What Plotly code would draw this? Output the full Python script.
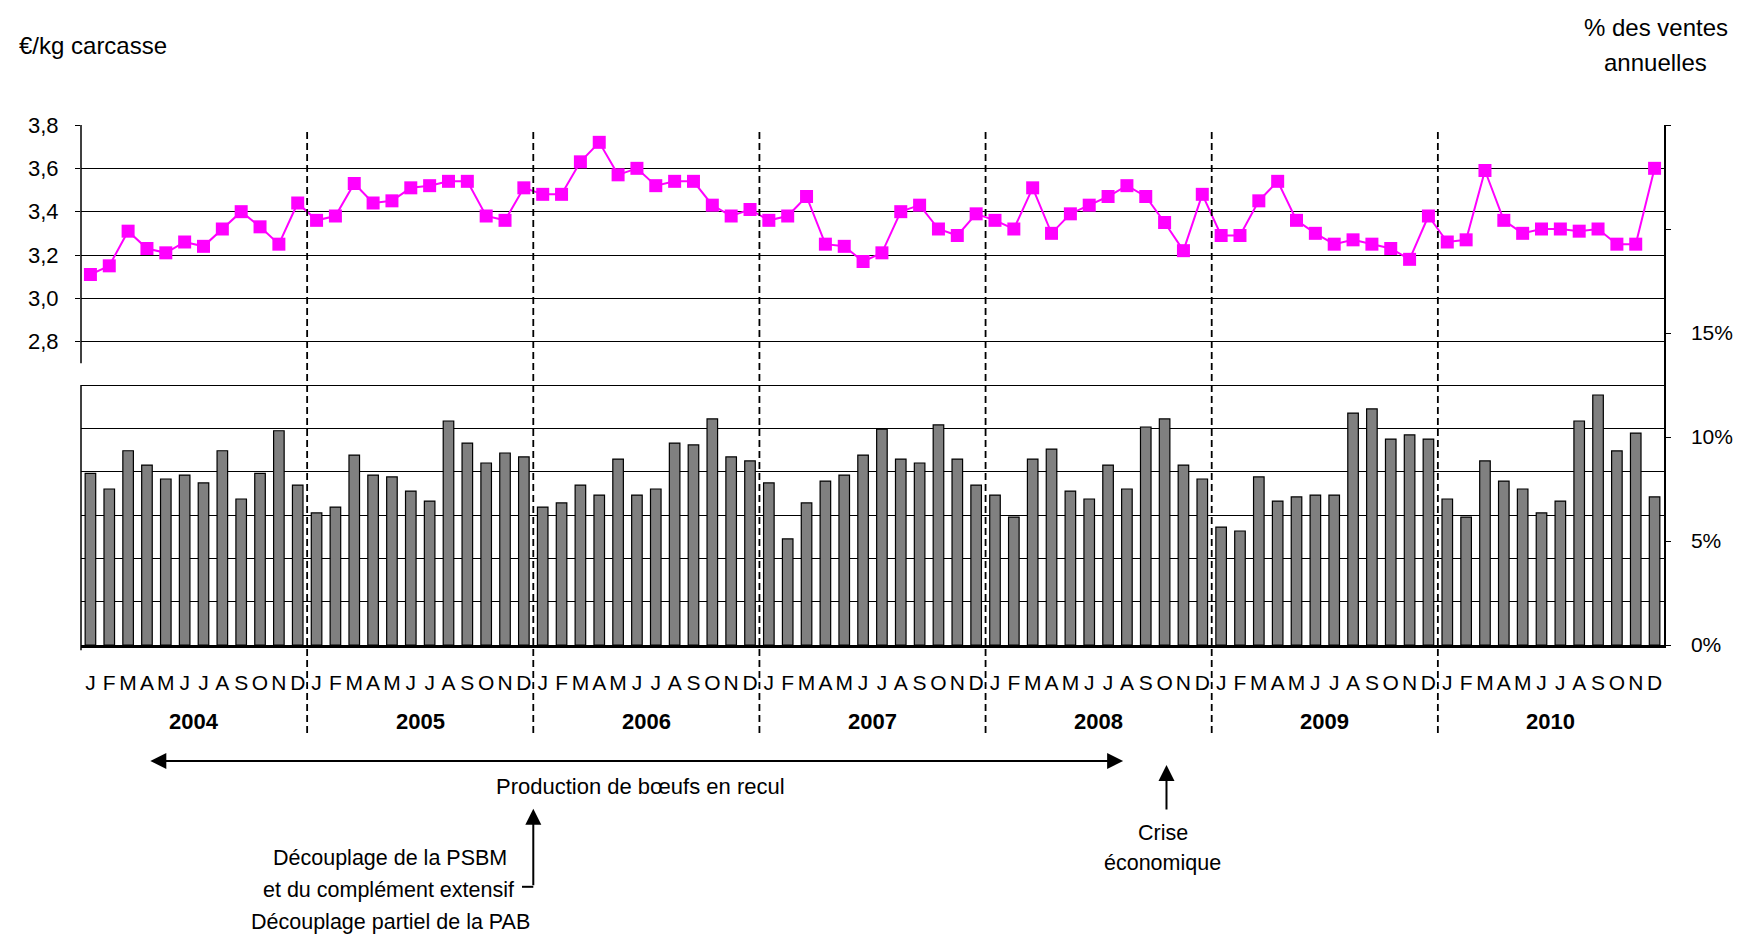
import plotly.graph_objects as go

# ---------------- data ----------------
years = ["2004", "2005", "2006", "2007", "2008", "2009", "2010"]
month_letters = ["J", "F", "M", "A", "M", "J", "J", "A", "S", "O", "N", "D"]

price_2004 = [3.11, 3.15, 3.31, 3.23, 3.21, 3.26, 3.24, 3.32, 3.40, 3.33, 3.25, 3.44]
price_2005 = [3.36, 3.38, 3.53, 3.44, 3.45, 3.51, 3.52, 3.54, 3.54, 3.38, 3.36, 3.51]
price_2006 = [3.48, 3.48, 3.63, 3.72, 3.57, 3.60, 3.52, 3.54, 3.54, 3.43, 3.38, 3.41]
price_2007 = [3.36, 3.38, 3.47, 3.25, 3.24, 3.17, 3.21, 3.40, 3.43, 3.32, 3.29, 3.39]
price_2008 = [3.36, 3.32, 3.51, 3.30, 3.39, 3.43, 3.47, 3.52, 3.47, 3.35, 3.22, 3.48]
price_2009 = [3.29, 3.29, 3.45, 3.54, 3.36, 3.30, 3.25, 3.27, 3.25, 3.23, 3.18, 3.38]
price_2010 = [3.26, 3.27, 3.59, 3.36, 3.30, 3.32, 3.32, 3.31, 3.32, 3.25, 3.25, 3.60]

sales_2004 = [8.25, 7.50, 9.34, 8.65, 7.98, 8.17, 7.79, 9.34, 7.02, 8.25, 10.30, 7.69]
sales_2005 = [6.35, 6.63, 9.13, 8.17, 8.08, 7.40, 6.92, 10.77, 9.71, 8.75, 9.23, 9.04]
sales_2006 = [6.63, 6.83, 7.69, 7.21, 8.94, 7.21, 7.50, 9.71, 9.62, 10.87, 9.04, 8.85]
sales_2007 = [7.79, 5.10, 6.83, 7.88, 8.17, 9.13, 10.38, 8.94, 8.75, 10.58, 8.94, 7.69]
sales_2008 = [7.21, 6.15, 8.94, 9.42, 7.40, 7.02, 8.65, 7.50, 10.48, 10.87, 8.65, 7.98]
sales_2009 = [5.67, 5.48, 8.08, 6.92, 7.12, 7.21, 7.21, 11.15, 11.35, 9.90, 10.10, 9.90]
sales_2010 = [7.02, 6.15, 8.85, 7.88, 7.50, 6.35, 6.92, 10.77, 12.02, 9.33, 10.19, 7.12]

price_ticks = [2.8, 3.0, 3.2, 3.4, 3.6, 3.8]
price_ticktext = ["2,8", "3,0", "3,2", "3,4", "3,6", "3,8"]
price_minor = [1.6, 1.8, 2.0, 2.2, 2.4, 2.6]
pct_ticks = [0, 5, 10, 15, 20, 25]
pct_ticktext = ["0%", "5%", "10%", "15%", "", ""]

# ---------------- build ----------------
prices = price_2004 + price_2005 + price_2006 + price_2007 + price_2008 + price_2009 + price_2010
sales = sales_2004 + sales_2005 + sales_2006 + sales_2007 + sales_2008 + sales_2009 + sales_2010
n = len(prices)
idx = list(range(n))
ticktext = month_letters * len(years)

PMIN, PMAX = 1.4, 3.8
def pp(v):  # price value -> paper fraction
    return (v - PMIN) / (PMAX - PMIN)

REG = "Liberation Sans, Arial, sans-serif"

fig = go.Figure()
fig.add_trace(go.Bar(
    x=idx, y=sales, yaxis="y2", width=0.56,
    marker=dict(color="#808080", line=dict(color="black", width=1.2)),
    showlegend=False,
))
fig.add_trace(go.Scatter(
    x=idx, y=prices, mode="lines+markers",
    line=dict(color="#FF00FF", width=2),
    marker=dict(symbol="square", size=13, color="#FF00FF"),
    showlegend=False,
))

shapes = []
# year dividers
for k in range(1, len(years)):
    xb = 12 * k - 0.5
    shapes.append(dict(type="line", xref="x", yref="paper", x0=xb, x1=xb,
                       y0=-0.169, y1=0.992,
                       line=dict(color="black", width=1.8, dash="7px,4px")))
# left axis line (with gap)
shapes.append(dict(type="line", xref="paper", yref="paper", x0=0, x1=0,
                   y0=pp(2.70), y1=1, line=dict(color="black", width=1.5)))
shapes.append(dict(type="line", xref="paper", yref="paper", x0=0, x1=0,
                   y0=-0.01, y1=pp(2.6), line=dict(color="black", width=1.5)))
# small connector under the decoupling arrow
shapes.append(dict(type="line", xref="x", yref="paper", x0=22.9, x1=23.5,
                   y0=-0.465, y1=-0.465, line=dict(color="black", width=2)))

def txt(x, y, s, size, xref="x", xanchor="center"):
    return dict(x=x, y=y, xref=xref, yref="paper", text=s, showarrow=False,
                xanchor=xanchor, yanchor="middle",
                font=dict(family=REG, size=size, color="black"))

annotations = []
for k, yr in enumerate(years):
    annotations.append(txt(12 * k + 5.5, -0.148, f"<b>{yr}</b>", 22))
annotations += [
    txt(-0.0406, 1.153, "€/kg carcasse", 24, xref="paper", xanchor="left"),
    txt(0.9947, 1.188, "% des ventes", 24, xref="paper"),
    txt(0.9947, 1.121, "annuelles", 24, xref="paper"),
    # horizontal double arrow
    dict(x=54.8, y=-0.223, xref="x", yref="paper", ax=3.1, ay=0, axref="x", ayref="pixel",
         text="", showarrow=True, arrowhead=2, arrowsize=1.6, arrowwidth=2,
         arrowside="end+start", startarrowhead=2, startarrowsize=1.6, arrowcolor="black"),
    txt(29.2, -0.272, "Production de bœufs en recul", 22),
    # decoupling arrow
    dict(x=23.5, y=-0.315, xref="x", yref="paper", ax=0, ay=78, axref="pixel", ayref="pixel",
         text="", showarrow=True, arrowhead=2, arrowsize=1.6, arrowwidth=2, arrowcolor="black"),
    txt(15.9, -0.4094, "Découplage de la PSBM", 21.5),
    txt(15.8, -0.4709, "et du complément extensif", 21.5),
    txt(15.9, -0.5334, "Découplage partiel de la PAB", 21.5),
    # crisis arrow
    dict(x=57.1, y=-0.2306, xref="x", yref="paper", ax=0, ay=46, axref="pixel", ayref="pixel",
         text="", showarrow=True, arrowhead=2, arrowsize=1.6, arrowwidth=2, arrowcolor="black"),
    txt(56.9, -0.3608, "Crise", 21.5),
    txt(56.9, -0.4196, "économique", 21.5),
]

fig.update_layout(
    width=1739, height=938,
    margin=dict(l=73, r=83, t=117, b=301),
    paper_bgcolor="white", plot_bgcolor="white",
    showlegend=False,
    xaxis=dict(range=[-0.5, n - 0.5], tickmode="array", tickvals=idx, ticktext=ticktext,
               tickangle=0, showgrid=False, zeroline=False,
               showline=True, linecolor="black", linewidth=2.5, ticks="",
               ticklabelstandoff=17,
               tickfont=dict(family=REG, size=21, color="black")),
    yaxis=dict(range=[PMIN, PMAX], tickmode="array", tickvals=price_ticks, ticktext=price_ticktext,
               showgrid=True, gridcolor="black", gridwidth=1, zeroline=False,
               showline=False, ticks="outside", ticklen=5, tickcolor="black", tickwidth=1.2,
               ticklabelstandoff=12,
               minor=dict(tickvals=price_minor, showgrid=True, gridcolor="black", gridwidth=1, ticks=""),
               tickfont=dict(family=REG, size=22, color="black")),
    yaxis2=dict(range=[0, 25], overlaying="y", side="right", tickmode="array",
                tickvals=pct_ticks, ticktext=pct_ticktext, showgrid=False, zeroline=False,
                showline=True, linecolor="black", linewidth=1.5,
                ticks="outside", ticklen=5, tickcolor="black", tickwidth=1.2,
                ticklabelstandoff=16,
                tickfont=dict(family=REG, size=21, color="black")),
    shapes=shapes,
    annotations=annotations,
)

fig.write_html("out.html")
